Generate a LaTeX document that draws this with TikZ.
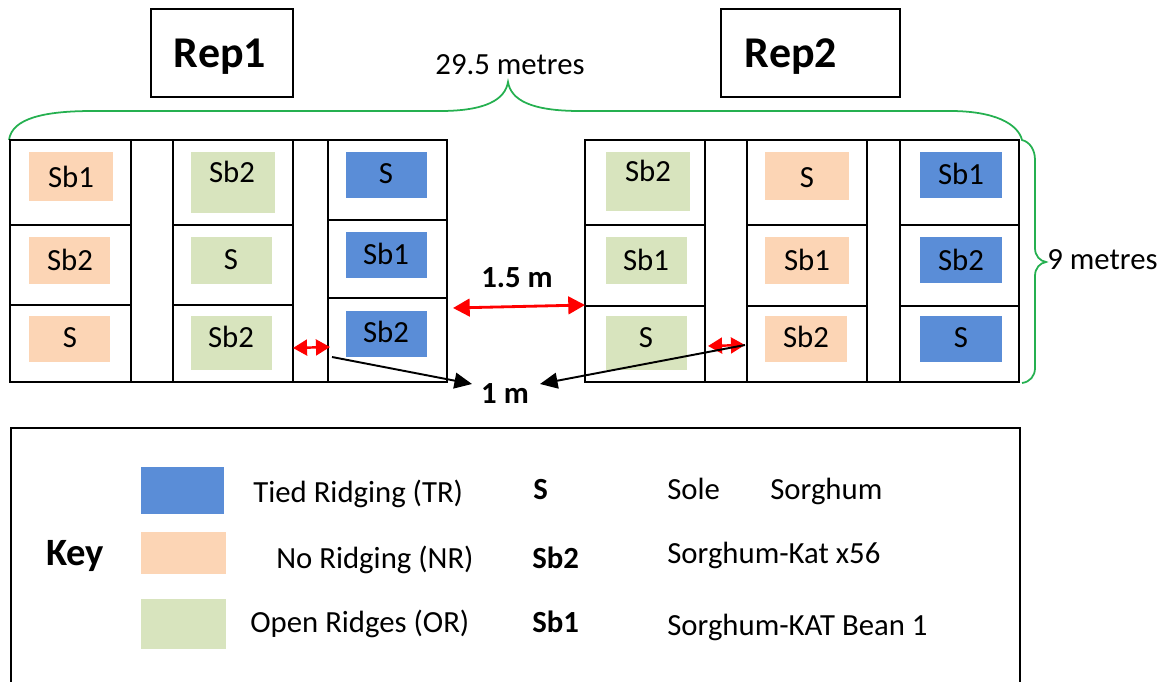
\documentclass[tikz,border=0pt]{standalone}
\usepackage{fontspec}
\setmainfont{Carlito}
\usetikzlibrary{arrows.meta}
\definecolor{trblue}{HTML}{5A8DD7}
\definecolor{nrtan}{HTML}{FCD5B5}
\definecolor{orgreen}{HTML}{D8E4BE}
\definecolor{bracegreen}{HTML}{25B050}

\begin{document}
\begin{tikzpicture}[x=0.02cm,y=-0.02cm,
    bed/.style={line width=1.4pt},
    lab/.style={anchor=base,inner sep=0pt,font=\fontsize{17.5}{20}\selectfont},
    blab/.style={lab,font=\fontsize{17.5}{20}\selectfont\bfseries},
    hd/.style={anchor=base,inner sep=0pt,font=\fontsize{25}{28}\selectfont\bfseries},
    gapline/.style={red,line width=1.6pt,{Triangle[length=9.5pt,width=10pt]}-{Triangle[length=9.5pt,width=10pt]}},
    alley/.style={red,line width=1.4pt,{Triangle[length=8pt,width=9pt]}-{Triangle[length=8pt,width=9pt]}},
    pointer/.style={black,line width=1.1pt,-{Triangle[length=10pt,width=9pt]}}]
\useasboundingbox (0,0) rectangle (1174,682);

% replicate titles
\draw[bed] (151,9) rectangle (293,97);
\node[hd] (rep1) at (220,68) {Rep1};
\draw[bed] (721,9) rectangle (900,97);
\node[hd] (rep2) at (791,68) {Rep2};

% green braces
\draw[bracegreen,line width=1pt] (9,140) .. controls (12,118) and (45,111) .. (93,111) -- (440,111)
    .. controls (485,111) and (505,100) .. (508,82) .. controls (511,100) and (531,111) .. (580,111) -- (950,111)
    .. controls (995,111) and (1018,124) .. (1022,140) .. controls (1030,142) and (1035,150) .. (1035,160) -- (1035,248)
    .. controls (1035,256) and (1040,261) .. (1046,262) .. controls (1040,263) and (1035,268) .. (1035,276) -- (1035,368)
    .. controls (1035,376) and (1030,382) .. (1022,383);
\node[lab] (length) at (510,75) {29.5 metres};
\node[lab,anchor=base west] (width) at (1047,270) {9 metres};

% Rep1 plots
\draw[bed] (10,140) rectangle (447,382);
\draw[bed] (131,140) -- (131,382) (173,140) -- (173,382) (293,140) -- (293,382) (328,140) -- (328,382);
\draw[bed] (10,225) -- (131,225) (10,305) -- (131,305) (173,225) -- (293,225) (173,305) -- (293,305)
    (328,220) -- (447,220) (328,298) -- (447,298);
\fill[nrtan] (29,152) rectangle (113,201);
\fill[nrtan] (29,237) rectangle (110,284);
\fill[nrtan] (29,316) rectangle (110,362);
\fill[orgreen] (191,152) rectangle (275,213);
\fill[orgreen] (191,237) rectangle (272,284);
\fill[orgreen] (191,316) rectangle (272,370);
\fill[trblue] (346,152) rectangle (427,198);
\fill[trblue] (346,232) rectangle (427,278);
\fill[trblue] (346,311) rectangle (427,357);
\node[lab] (a11) at (71,188) {Sb1};
\node[lab] (a12) at (70,271) {Sb2};
\node[lab] (a13) at (70,348) {S};
\node[lab] (a21) at (232,183) {Sb2};
\node[lab] (a22) at (231,270) {S};
\node[lab] (a23) at (231,348) {Sb2};
\node[lab] (a31) at (386,184) {S};
\node[lab] (a32) at (386,265) {Sb1};
\node[lab] (a33) at (386,343) {Sb2};

% Rep2 plots
\draw[bed] (585,140) rectangle (1019,382);
\draw[bed] (705,140) -- (705,382) (747,140) -- (747,382) (867,140) -- (867,382) (900,140) -- (900,382);
\draw[bed] (585,225) -- (705,225) (585,306) -- (705,306) (747,225) -- (867,225) (747,306) -- (867,306)
    (900,225) -- (1019,225) (900,306) -- (1019,306);
\fill[orgreen] (606,152) rectangle (690,211);
\fill[orgreen] (606,237) rectangle (687,284);
\fill[orgreen] (606,316) rectangle (687,370);
\fill[nrtan] (765,152) rectangle (849,200);
\fill[nrtan] (765,237) rectangle (849,284);
\fill[nrtan] (765,316) rectangle (847,362);
\fill[trblue] (920,152) rectangle (1002,198);
\fill[trblue] (920,237) rectangle (1002,283);
\fill[trblue] (920,316) rectangle (1002,362);
\node[lab] (b11) at (648,182) {Sb2};
\node[lab] (b12) at (646,271) {Sb1};
\node[lab] (b13) at (646,348) {S};
\node[lab] (b21) at (807,188) {S};
\node[lab] (b22) at (807,271) {Sb1};
\node[lab] (b23) at (806,348) {Sb2};
\node[lab] (b31) at (961,185) {Sb1};
\node[lab] (b32) at (961,271) {Sb2};
\node[lab] (b33) at (961,348) {S};

% spacings
\coordinate (g1) at (453,308);
\coordinate (g2) at (585,305);
\draw[gapline] (g1) -- (g2);
\node[blab] (repgap) at (517,288) {1.5 m};
\coordinate (s1) at (293,348);
\coordinate (s2) at (330,347);
\coordinate (s3) at (708,346);
\coordinate (s4) at (745,345);
\draw[alley] (s1) -- (s2);
\draw[alley] (s3) -- (s4);
\node[blab] (plotgap) at (505,403) {1 m};
\coordinate (p1) at (472,384);
\coordinate (p2) at (540,384);
\draw[pointer] (332,357) -- (p1);
\draw[pointer] (s4) -- (p2);

% key
\draw[line width=1.2pt] (11,682) -- (11,428) -- (1020,428) -- (1020,682);
\node[hd,anchor=base west,font=\fontsize{22}{26}\selectfont\bfseries] (key) at (46,565) {Key};
\fill[trblue] (141,467) rectangle (224,514);
\fill[nrtan] (141,532) rectangle (226,574);
\fill[orgreen] (141,599) rectangle (226,649);
\node[lab,anchor=base west] (ktr) at (253,502) {Tied Ridging (TR)};
\node[lab,anchor=base west] (knr) at (276,568) {No Ridging (NR)};
\node[lab,anchor=base west] (kor) at (250,632) {Open Ridges (OR)};
\node[blab,anchor=base west] (ks) at (533,500) {S};
\node[blab,anchor=base west] (ksb2) at (532,568) {Sb2};
\node[blab,anchor=base west] (ksb1) at (532,632) {Sb1};
\node[lab,anchor=base west] (sole) at (667,500) {Sole};
\node[lab,anchor=base west] (sorg) at (770,500) {Sorghum};
\node[lab,anchor=base west] (kat) at (667,563) {Sorghum-Kat x56};
\node[lab,anchor=base west] (bean) at (667,635) {Sorghum-KAT Bean 1};
\end{tikzpicture}
\end{document}
